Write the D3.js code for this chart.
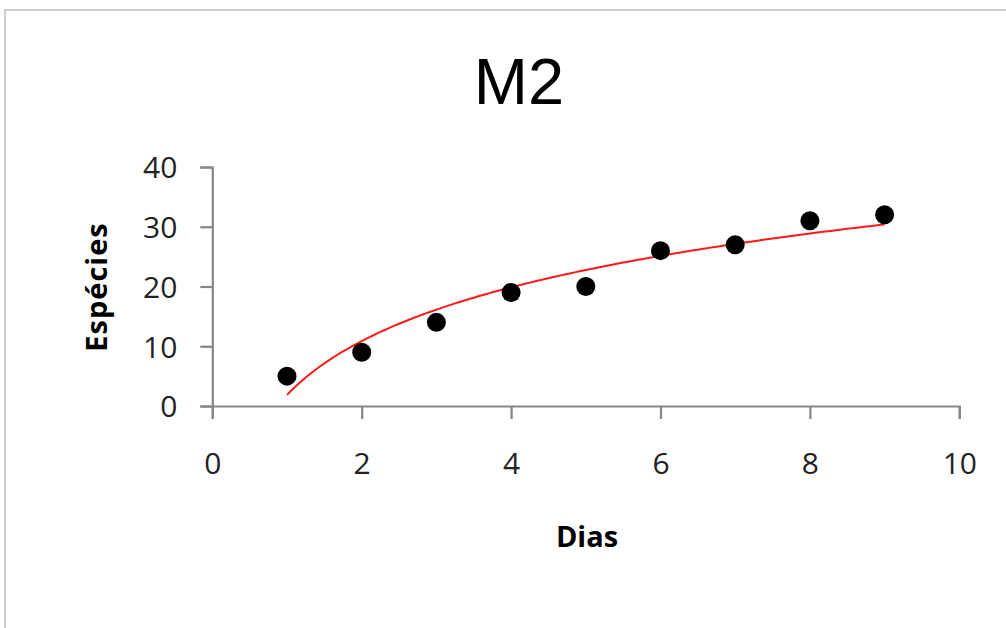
<!DOCTYPE html>
<html>
<head>
<meta charset="utf-8">
<script src="https://cdn.jsdelivr.net/npm/d3@7/dist/d3.min.js"></script>
<style>
  html, body { margin: 0; padding: 0; background: #fff; }
  svg { display: block; }
</style>
</head>
<body>
<svg id="chart" width="1006" height="628"></svg>
<script>
// Data
const title = "M2";
const xLabel = "Dias";
const yLabel = "Espécies";
const dias = [1, 2, 3, 4, 5, 6, 7, 8, 9];
const especies = [5, 9, 14, 19, 20, 26, 27, 31, 32];
const xTicks = [0, 2, 4, 6, 8, 10];
const yTicks = [0, 10, 20, 30, 40];

const svg = d3.select("#chart");
const W = 1006, H = 628;

// Outer frame
svg.append("rect")
  .attr("x", 5).attr("y", 10).attr("width", W + 10).attr("height", H + 10)
  .attr("fill", "#fff").attr("stroke", "#bfbfbf").attr("stroke-width", 1.5);

const x = d3.scaleLinear().domain([0, 10]).range([212.3, 959.3]);
const y = d3.scaleLinear().domain([0, 40]).range([406, 167]);

const axisColor = "#868686";
const tickFont = "'Open Sans', 'DejaVu Sans', sans-serif";

// Y axis
const gy = svg.append("g").attr("transform", `translate(${x(0)},0)`)
  .call(d3.axisLeft(y).tickValues(yTicks).tickSize(12).tickPadding(23).tickFormat(d3.format("d")));
// X axis
const gx = svg.append("g").attr("transform", `translate(0,${y(0)})`)
  .call(d3.axisBottom(x).tickValues(xTicks).tickSize(13).tickPadding(35).tickFormat(d3.format("d")));

[gx, gy].forEach(g => {
  g.selectAll("path.domain").attr("stroke", axisColor).attr("stroke-width", 2.2);
  g.selectAll(".tick line").attr("stroke", axisColor).attr("stroke-width", 2.2);
  g.selectAll(".tick text")
    .attr("fill", "#222")
    .style("font-family", tickFont)
    .style("font-size", "30px");
});
gy.selectAll(".tick text").attr("dy", "0.36em");
gx.selectAll(".tick text").attr("dy", "0.68em");

// Trend line: logarithmic least-squares fit y = a*ln(x) + b
const lx = dias.map(Math.log);
const mlx = d3.mean(lx), my = d3.mean(especies);
const a = d3.sum(lx, (v, i) => (v - mlx) * (especies[i] - my)) / d3.sum(lx, v => (v - mlx) ** 2);
const b = my - a * mlx;
const trend = d3.range(0, 161).map(i => {
  const xv = dias[0] + (dias[dias.length - 1] - dias[0]) * i / 160;
  return [xv, a * Math.log(xv) + b];
});

svg.append("path")
  .datum(trend)
  .attr("fill", "none")
  .attr("stroke", "#ff1a1a")
  .attr("stroke-width", 2)
  .attr("d", d3.line().x(d => x(d[0])).y(d => y(d[1])));

// Points
svg.append("g").selectAll("circle")
  .data(dias.map((d, i) => [d, especies[i]]))
  .join("circle")
  .attr("cx", d => x(d[0]))
  .attr("cy", d => y(d[1]))
  .attr("r", 9.5)
  .attr("fill", "#000");

// Title
svg.append("text")
  .attr("x", 519).attr("y", 104)
  .attr("text-anchor", "middle")
  .style("font-family", "'Liberation Sans', Arial, sans-serif")
  .style("font-size", "65px")
  .attr("fill", "#000")
  .text(title);

// Axis titles
svg.append("text")
  .attr("x", 587).attr("y", 547)
  .attr("text-anchor", "middle")
  .style("font-family", tickFont)
  .style("font-weight", "bold")
  .style("font-size", "29px")
  .attr("fill", "#000")
  .text(xLabel);

svg.append("text")
  .attr("transform", "translate(107,287) rotate(-90)")
  .attr("text-anchor", "middle")
  .style("font-family", tickFont)
  .style("font-weight", "bold")
  .style("font-size", "29px")
  .style("letter-spacing", "1px")
  .attr("fill", "#000")
  .text(yLabel);
</script>
</body>
</html>
